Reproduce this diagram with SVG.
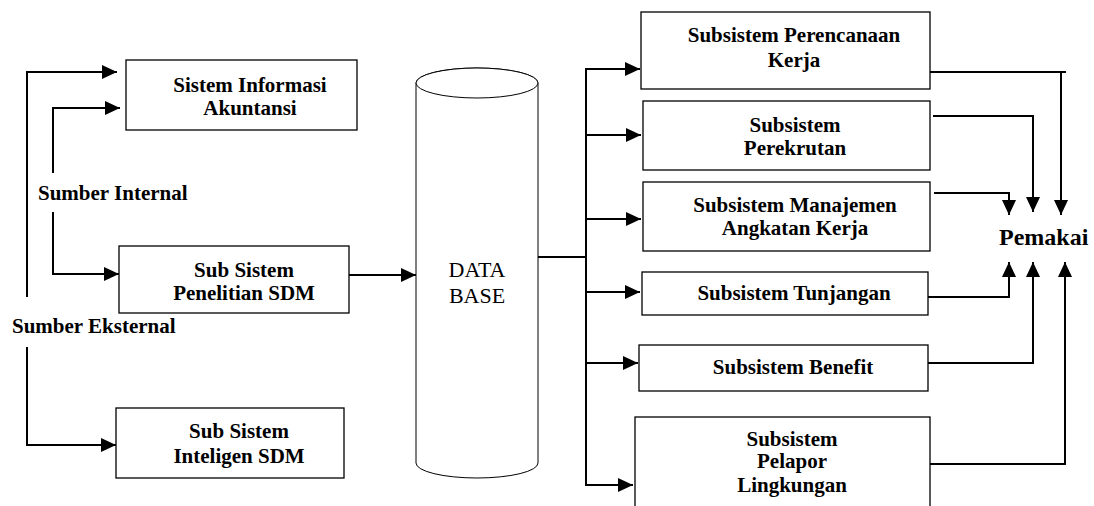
<svg xmlns="http://www.w3.org/2000/svg" width="1094" height="506" viewBox="0 0 1094 506">
<style>
.box{fill:#fff;stroke:#000;stroke-width:1.3}
.cyl{fill:#fff;stroke:#000;stroke-width:1}
.t{font-family:"Liberation Serif","Times New Roman",serif;font-weight:bold;font-size:21px;text-anchor:middle;fill:#000}
.lbl{font-family:"Liberation Serif","Times New Roman",serif;font-weight:bold;font-size:21px;fill:#000}
.db{font-family:"Liberation Serif","Times New Roman",serif;font-size:22px;text-anchor:middle;fill:#000}
.pm{font-family:"Liberation Serif","Times New Roman",serif;font-weight:bold;font-size:24px;fill:#000}
.c{fill:none;stroke:#000;stroke-width:2}
</style>
<defs>
<marker id="ah" markerUnits="userSpaceOnUse" markerWidth="15" markerHeight="14" refX="15" refY="7" orient="auto">
<path d="M0,0 L15,7 L0,14 z" fill="#000"/>
</marker>
</defs>
<rect width="1094" height="506" fill="#fff"/>
<g id="connectors">
<!-- left inputs -->
<polyline class="c" points="27,297 27,72 117,72" marker-end="url(#ah)"/>
<polyline class="c" points="53,173 53,108 120,108" marker-end="url(#ah)"/>
<polyline class="c" points="53,212 53,274 119,274" marker-end="url(#ah)"/>
<polyline class="c" points="27,347 27,445 116,445" marker-end="url(#ah)"/>
<line class="c" x1="349" y1="275" x2="416" y2="275" marker-end="url(#ah)"/>
<!-- database bus -->
<line class="c" x1="538" y1="257" x2="586" y2="257"/>
<polyline class="c" points="640,69 586,69 586,485 633,485" marker-end="url(#ah)"/>
<line class="c" x1="586" y1="69" x2="640" y2="69" marker-end="url(#ah)"/>
<line class="c" x1="586" y1="135" x2="641" y2="135" marker-end="url(#ah)"/>
<line class="c" x1="586" y1="219" x2="641" y2="219" marker-end="url(#ah)"/>
<line class="c" x1="586" y1="292" x2="640" y2="292" marker-end="url(#ah)"/>
<line class="c" x1="586" y1="363" x2="638" y2="363" marker-end="url(#ah)"/>
<!-- outputs to Pemakai -->
<polyline class="c" points="930,72 1066,72"/>
<line class="c" x1="1061" y1="72" x2="1061" y2="215" marker-end="url(#ah)"/>
<polyline class="c" points="933,116 1033,116 1033,212" marker-end="url(#ah)"/>
<polyline class="c" points="934,193 1009,193 1009,215" marker-end="url(#ah)"/>
<polyline class="c" points="928,297 1009,297 1009,262" marker-end="url(#ah)"/>
<polyline class="c" points="928,363 1033,363 1033,262" marker-end="url(#ah)"/>
<polyline class="c" points="930,464 1065,464 1065,262" marker-end="url(#ah)"/>
</g>
<g id="label-internal"><text class="lbl" x="38" y="200">Sumber Internal</text></g>
<g id="label-eksternal"><text class="lbl" x="12" y="333">Sumber Eksternal</text></g>
<g id="sia">
<rect class="box" x="126" y="60" width="231" height="70"/>
<text class="t" x="250" y="92">Sistem Informasi</text>
<text class="t" x="250" y="115">Akuntansi</text>
</g>
<g id="penelitian">
<rect class="box" x="119" y="246" width="230" height="67"/>
<text class="t" x="244" y="277">Sub Sistem</text>
<text class="t" x="244" y="300">Penelitian SDM</text>
</g>
<g id="inteligen">
<rect class="box" x="116" y="408" width="228" height="70"/>
<text class="t" x="239" y="438">Sub Sistem</text>
<text class="t" x="239" y="463">Inteligen SDM</text>
</g>
<g id="database">
<path class="cyl" d="M416,83 L416,463 A61,15 0 0 0 538,463 L538,83 A61,15 0 0 0 416,83 Z"/>
<ellipse class="cyl" cx="477" cy="83" rx="61" ry="15"/>
<text class="db" x="477" y="277">DATA</text>
<text class="db" x="477" y="303">BASE</text>
</g>
<g id="perencanaan">
<rect class="box" x="641" y="12" width="289" height="77"/>
<text class="t" x="794" y="42">Subsistem Perencanaan</text>
<text class="t" x="794" y="67">Kerja</text>
</g>
<g id="perekrutan">
<rect class="box" x="643" y="101" width="287" height="69"/>
<text class="t" x="795" y="132">Subsistem</text>
<text class="t" x="795" y="155">Perekrutan</text>
</g>
<g id="manajemen">
<rect class="box" x="643" y="182" width="287" height="69"/>
<text class="t" x="795" y="212">Subsistem Manajemen</text>
<text class="t" x="795" y="235">Angkatan Kerja</text>
</g>
<g id="tunjangan">
<rect class="box" x="642" y="272" width="286" height="43"/>
<text class="t" x="794" y="300">Subsistem Tunjangan</text>
</g>
<g id="benefit">
<rect class="box" x="639" y="345" width="289" height="46"/>
<text class="t" x="793" y="374">Subsistem Benefit</text>
</g>
<g id="pelapor">
<rect class="box" x="635" y="417" width="295" height="100"/>
<text class="t" x="792" y="446">Subsistem</text>
<text class="t" x="792" y="468">Pelapor</text>
<text class="t" x="792" y="492">Lingkungan</text>
</g>
<g id="pemakai"><text class="pm" x="999" y="245">Pemakai</text></g>
</svg>
